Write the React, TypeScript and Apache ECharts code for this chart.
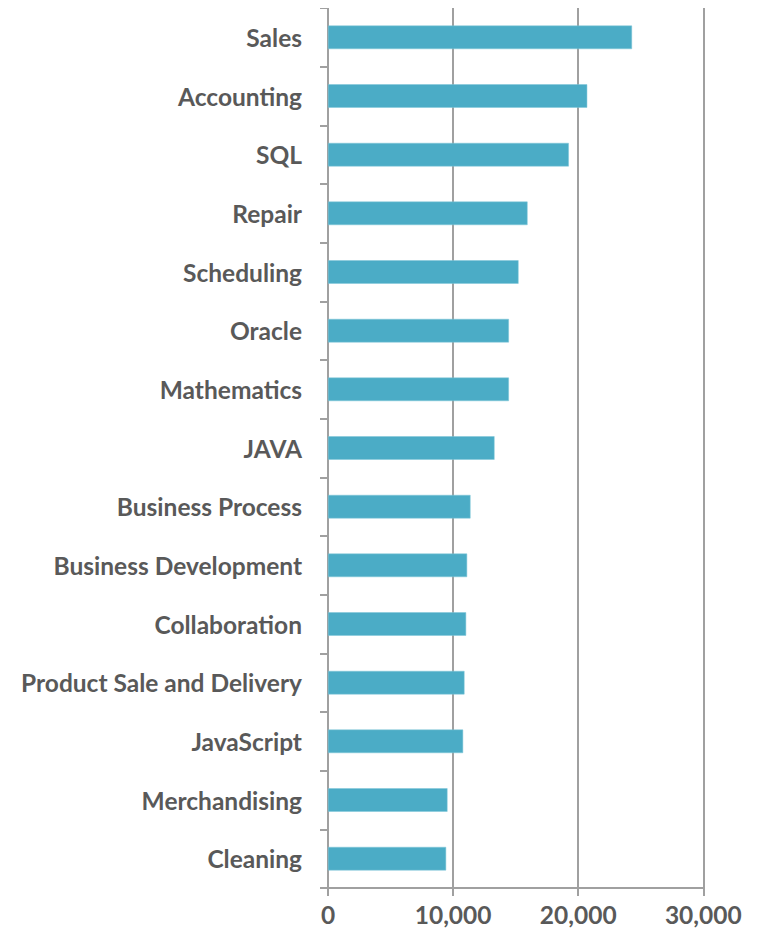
import React, { useEffect, useRef } from "react";
import * as echarts from "echarts";

const categories = [
  "Sales",
  "Accounting",
  "SQL",
  "Repair",
  "Scheduling",
  "Oracle",
  "Mathematics",
  "JAVA",
  "Business Process",
  "Business Development",
  "Collaboration",
  "Product Sale and Delivery",
  "JavaScript",
  "Merchandising",
  "Cleaning",
];

const values = [
  24300, 20720, 19250, 15950, 15230, 14460, 14460, 13310, 11390, 11120, 11040,
  10910, 10800, 9550, 9440,
];

const xTicks = { min: 0, max: 30000, interval: 10000 };

export default function App() {
  const ref = useRef<HTMLDivElement>(null);
  useEffect(() => {
    if (!ref.current) return;
    const chart = echarts.init(ref.current, null, { renderer: "svg" });
    const fontFamily = "Lato, 'Open Sans', sans-serif";
    chart.setOption({
      animation: false,
      grid: { left: 328, right: 57.7, top: 8, bottom: 48, containLabel: false },
      xAxis: {
        type: "value",
        min: xTicks.min,
        max: xTicks.max,
        interval: xTicks.interval,
        axisLine: { show: true, lineStyle: { color: "#a0a0a0", width: 2 } },
        axisTick: { show: true, length: 8, lineStyle: { color: "#a0a0a0", width: 2 } },
        splitLine: { show: true, lineStyle: { color: "#a0a0a0", width: 2 } },
        axisLabel: {
          margin: 14,
          color: "#595959",
          fontSize: 24.5,
          fontWeight: "bold",
          fontFamily,
          formatter: (v: number) => v.toLocaleString("en-US"),
        },
      },
      yAxis: {
        type: "category",
        data: categories,
        inverse: true,
        axisLine: { show: true, lineStyle: { color: "#a0a0a0", width: 2 } },
        axisTick: { show: true, length: 8, lineStyle: { color: "#a0a0a0", width: 2 } },
        splitLine: { show: false },
        axisLabel: {
          margin: 26,
          color: "#595959",
          fontSize: 24.5,
          fontWeight: "bold",
          fontFamily,
        },
      },
      series: [
        {
          type: "bar",
          data: values,
          barWidth: "40%",
          itemStyle: { color: "#4BACC6", borderColor: "#7fc6d8", borderWidth: 0.5 },
        },
      ],
    });
    return () => chart.dispose();
  }, []);
  return <div ref={ref} style={{ width: 761, height: 936, margin: -8 }} />;
}
